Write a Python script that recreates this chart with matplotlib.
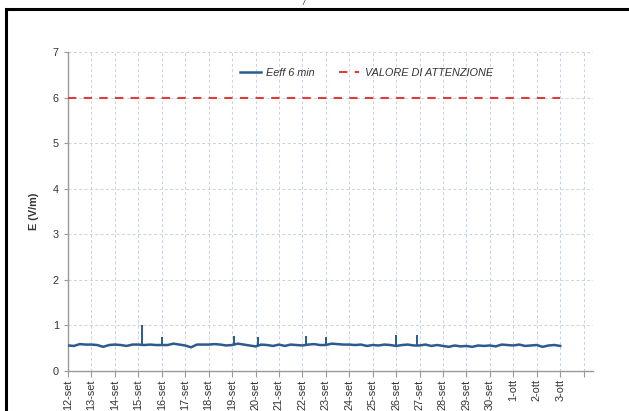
import numpy as np
import matplotlib
matplotlib.use("Agg")
import matplotlib.pyplot as plt
from matplotlib.patches import Rectangle

plt.rcParams['font.family'] = ['Liberation Sans', 'DejaVu Sans']

# day labels (12 Sept -> 3 Oct), one tick per day, last tick unlabelled
day_labels = ["12-set", "13-set", "14-set", "15-set", "16-set", "17-set", "18-set",
              "19-set", "20-set", "21-set", "22-set", "23-set", "24-set", "25-set",
              "26-set", "27-set", "28-set", "29-set", "30-set", "1-ott", "2-ott", "3-ott"]

# Eeff 6 min, read every 6 hours (days from 12-set 00:00)
eeff = [0.56, 0.55, 0.59, 0.58,
        0.58, 0.57, 0.53, 0.57,
        0.58, 0.57, 0.55, 0.58,
        0.58, 0.57, 0.58, 0.57,
        0.57, 0.57, 0.60, 0.58,
        0.56, 0.52, 0.58, 0.58,
        0.58, 0.59, 0.58, 0.56,
        0.57, 0.60, 0.58, 0.56,
        0.54, 0.58, 0.57, 0.55,
        0.58, 0.55, 0.58, 0.57,
        0.56, 0.58, 0.59, 0.57,
        0.57, 0.60, 0.59, 0.58,
        0.58, 0.57, 0.58, 0.55,
        0.57, 0.56, 0.58, 0.57,
        0.55, 0.57, 0.58, 0.56,
        0.56, 0.58, 0.55, 0.57,
        0.55, 0.53, 0.56, 0.54,
        0.55, 0.53, 0.56, 0.55,
        0.56, 0.54, 0.58, 0.57,
        0.56, 0.58, 0.55, 0.56,
        0.57, 0.53, 0.56, 0.57,
        0.55]
eeff_days = np.arange(len(eeff)) * 0.25

# isolated 6-minute peaks
spike_days = [3.15, 4.0, 7.08, 8.12, 10.15, 11.0, 14.0, 14.9]
spike_vals = [1.00, 0.75, 0.77, 0.75, 0.76, 0.75, 0.78, 0.80]

threshold = 6.0

fig = plt.figure(figsize=(6.29, 4.11), dpi=100)
ax = fig.add_axes([68 / 629, 1 - 371 / 411, 525 / 629, 319 / 411])

blue = "#2b5b8e"
ax.plot(eeff_days, eeff, color=blue, lw=1.8, label="Eeff 6 min", zorder=3)
base = np.interp(spike_days, eeff_days, eeff)
ax.vlines(spike_days, base, spike_vals, color=blue, lw=1.4, zorder=3)
ax.plot([0, len(day_labels) - 1], [threshold, threshold], color="#e03c3c",
        lw=1.5, ls=(0, (4, 3.5)), label="VALORE DI ATTENZIONE", zorder=3)

ax.set_xlim(0, 22.4)
ax.set_ylim(0, 7)
ax.set_xticks(range(len(day_labels) + 1))
ax.set_xticklabels(day_labels + [""], rotation=90, fontsize=7.8, color="#333333")
ax.set_yticks(range(8))
ax.tick_params(axis="y", labelsize=7.8, labelcolor="#333333", length=3, color="#999999")
ax.tick_params(axis="x", length=4, color="#999999", pad=2)

ax.grid(True, color="#c9d3de", ls=(0, (3, 2.5)), lw=0.7)
for s in ("top", "right"):
    ax.spines[s].set_visible(False)
for s in ("left", "bottom"):
    ax.spines[s].set_color("#999999")
    ax.spines[s].set_linewidth(1.0)

ax.set_ylabel("E (V/m)", fontsize=7.8, fontweight="bold", color="#333333", labelpad=10)

leg = ax.legend(loc="center", bbox_to_anchor=(0.569, 0.934), ncol=2, frameon=False,
                handlelength=1.9, handletextpad=0.5, columnspacing=2.2,
                prop={"style": "italic", "size": 7.8})
for t in leg.get_texts():
    t.set_color("#333333")

# outer frame of the cropped page
fig.patches.append(Rectangle((6 / 629, -0.1), 1.2, 1.1 - 9 / 411,
                             transform=fig.transFigure, fill=False,
                             edgecolor="black", lw=2.2))
fig.text(303 / 629, 1.0, "/", fontsize=5, style="italic", ha="center", va="top")

fig.savefig("out.png", dpi=100)
